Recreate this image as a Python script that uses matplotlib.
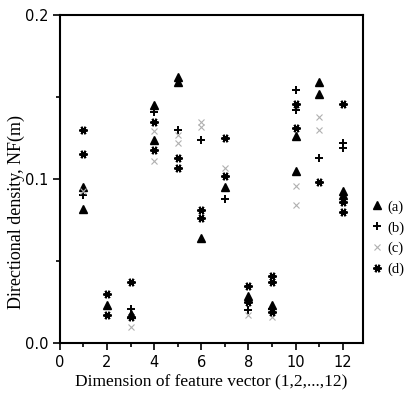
import numpy as np
import matplotlib.pyplot as plt

# (a) filled triangles
xa = [1, 1, 2, 3, 4, 4, 5, 5, 6, 7, 8, 9, 10, 10, 11, 11, 12, 12]
ya = [0.095, 0.082, 0.023, 0.018, 0.145, 0.124, 0.162, 0.159, 0.064, 0.095,
      0.029, 0.023, 0.126, 0.105, 0.159, 0.152, 0.093, 0.090]

# (b) plus
xb = [1, 3, 4, 5, 6, 7, 8, 9, 10, 10, 11, 12, 12]
yb = [0.090, 0.021, 0.141, 0.130, 0.124, 0.088, 0.020, 0.021, 0.154, 0.142,
      0.113, 0.122, 0.119]

# (c) faint crosses
xc = [1, 3, 4, 4, 5, 5, 6, 6, 7, 8, 9, 10, 10, 11, 11]
yc = [0.093, 0.010, 0.129, 0.111, 0.127, 0.122, 0.135, 0.132, 0.107, 0.017,
      0.016, 0.096, 0.084, 0.138, 0.130]

# (d) bow-tie stars
xd = [1, 1, 2, 2, 3, 3, 4, 4, 5, 5, 6, 6, 7, 7, 8, 8, 9, 9, 9, 10, 10, 11, 12, 12, 12]
yd = [0.130, 0.115, 0.030, 0.017, 0.037, 0.016, 0.135, 0.118, 0.113, 0.107,
      0.081, 0.076, 0.125, 0.102, 0.035, 0.025, 0.041, 0.037, 0.019, 0.146,
      0.131, 0.098, 0.146, 0.086, 0.080]

labels = ["(a)", "(b)", "(c)", "(d)"]

fig = plt.figure(figsize=(4.1, 3.94), dpi=100)
ax = fig.add_axes([0.146, 0.129, 0.739, 0.833])

ax.plot(xa, ya, ls="none", marker="^", ms=5.5, color="black", label=labels[0])
ax.plot(xb, yb, ls="none", marker="+", ms=6, mew=1.4, color="black", label=labels[1])
ax.plot(xc, yc, ls="none", marker="x", ms=4, mew=0.8, color="#b0b0b0", label=labels[2])
ax.plot(xd, yd, ls="none", marker=(6, 2, 90), ms=6, mew=1.4, color="black", label=labels[3])

ax.set_xlim(0, 12.85)
ax.set_ylim(0, 0.2)
ax.set_xticks([0, 2, 4, 6, 8, 10, 12])
ax.set_xticks([1, 3, 5, 7, 9, 11], minor=True)
ax.set_yticks([0.0, 0.1, 0.2])
ax.set_yticks([0.05, 0.15], minor=True)
ax.set_yticklabels(["0.0", "0.1", "0.2"])
ax.tick_params(which="both", direction="out", top=False, right=False,
               labelsize=10.5, width=1.2)
ax.tick_params(which="major", length=5)
ax.tick_params(which="minor", length=3)
for s in ax.spines.values():
    s.set_linewidth(1.5)

ax.set_xlabel("Dimension of feature vector (1,2,...,12)",
              family="Liberation Serif", fontsize=12.5)
ax.set_ylabel("Directional density, NF(m)", family="Liberation Serif", fontsize=13)
ax.yaxis.set_label_coords(-0.115, 0.4)
ax.xaxis.set_label_coords(0.5, -0.095)

ax.legend(loc="center left", bbox_to_anchor=(0.99, 0.32), frameon=False,
          handlelength=0.6, handletextpad=0.4, labelspacing=0.5,
          prop={"family": "Liberation Serif", "size": 10.5})

plt.savefig("out.png", dpi=100)
